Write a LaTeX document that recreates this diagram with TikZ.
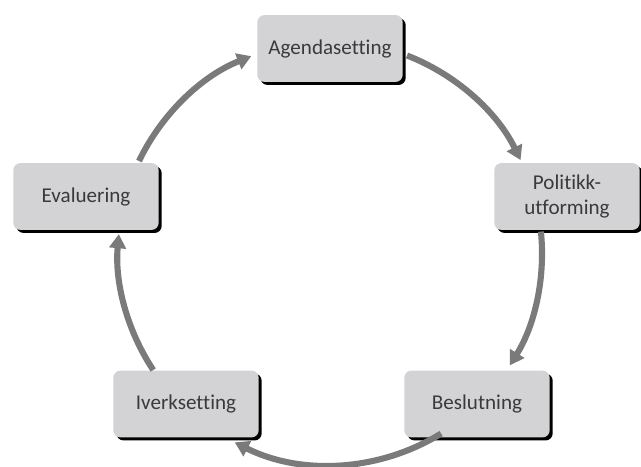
\documentclass[tikz,border=0pt]{standalone}
\usepackage{fontspec}
\setmainfont[Ligatures={NoCommon}]{Carlito}
\usetikzlibrary{arrows.meta,shadows}
\definecolor{boxgray}{HTML}{D3D3D5}
\definecolor{flowgray}{HTML}{7A7A7A}
\definecolor{inkgray}{HTML}{3A3A3A}
\tikzset{
  stage/.style={rounded corners=6pt, fill=boxgray, minimum width=124pt, minimum height=57pt,
    inner sep=0pt, align=center, text=inkgray,
    font=\fontsize{18}{20.5}\selectfont,
    drop shadow={shadow xshift=2.6pt, shadow yshift=-2.6pt, fill=black, opacity=1}},
  flow/.style={draw=flowgray, line width=5.2pt,
    -{Triangle[length=12pt, width=14pt, fill=flowgray]}}
}
\begin{document}
\begin{tikzpicture}[x=0.03cm, y=0.03cm]
  \useasboundingbox (0,0) rectangle (641,466);
  % centre of the policy cycle
  \coordinate (hub) at (330,213);
  \def\rad{212}
  % the five stages
  \node[stage] (agenda)  at (330,417.5) {Agendasetting};
  \node[stage] (politikk) at (567,269.5) {Politikk-\\utforming};
  \node[stage] (beslut)  at (477,62) {Beslutning};
  \node[stage] (iverk)   at (186,62) {Iverksetting};
  \node[stage] (eval)    at (86,269.5) {Evaluering};
  % arcs of the cycle, running clockwise
  \draw[flow] ([shift={(68.7:\rad)}]hub) arc[start angle=68.7, end angle=26, radius=\rad];
  \draw[flow] ([shift={(5.8:\rad)}]hub) arc[start angle=5.8, end angle=-32, radius=\rad];
  \draw[flow] ([shift={(-58.4:\rad)}]hub) arc[start angle=-58.4, end angle=-116.7, radius=\rad];
  \draw[flow] ([shift={(-146.5:\rad)}]hub) arc[start angle=-146.5, end angle=-185.1, radius=\rad];
  \draw[flow] ([shift={(154.3:\rad)}]hub) arc[start angle=154.3, end angle=111.8, radius=\rad];
\end{tikzpicture}
\end{document}
